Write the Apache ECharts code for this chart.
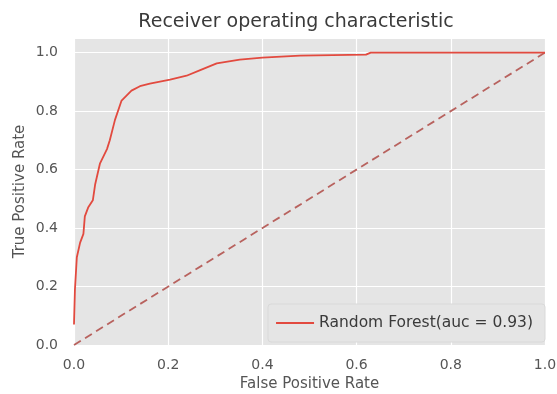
<!DOCTYPE html>
<html>
<head>
<meta charset="utf-8">
<script src="https://cdn.jsdelivr.net/npm/echarts@6/dist/echarts.min.js"></script>
<style>html,body{margin:0;padding:0;background:#fff;}#c{width:557px;height:394px;}</style>
</head>
<body>
<div id="c"></div>
<script>
const fpr = [0, 0.002, 0.006, 0.013, 0.02, 0.023, 0.03, 0.04, 0.045, 0.055, 0.07, 0.076, 0.087, 0.101, 0.122, 0.14, 0.161, 0.204, 0.239, 0.268, 0.303, 0.352, 0.40, 0.48, 0.62, 0.63, 1.0];
const tpr = [0.07, 0.19, 0.30, 0.35, 0.38, 0.44, 0.47, 0.495, 0.55, 0.62, 0.67, 0.70, 0.77, 0.836, 0.87, 0.885, 0.894, 0.908, 0.921, 0.94, 0.963, 0.976, 0.983, 0.99, 0.993, 1.0, 1.0];
const diagX = [0, 1];
const diagY = [0, 1];
const xTicks = [0, 0.2, 0.4, 0.6, 0.8, 1.0];
const yTicks = [0, 0.2, 0.4, 0.6, 0.8, 1.0];
const seriesName = 'Random Forest(auc = 0.93)';
const titleText = 'Receiver operating characteristic';

const chart = echarts.init(document.getElementById('c'), null, {renderer: 'canvas'});
const font = 'DejaVu Sans';
chart.setOption({
  animation: false,
  backgroundColor: '#ffffff',
  title: {
    text: titleText, left: 291, textAlign: 'center', top: 8,
    textStyle: {fontFamily: font, fontSize: 19, fontWeight: 'normal', color: '#3a3a3a'}
  },
  grid: {left: 74, right: 12, top: 38, bottom: 49, show: true, backgroundColor: '#E5E5E5', borderWidth: 0,
    containLabel: false, outerBoundsMode: 'none'},
  legend: {
    data: [seriesName], right: 12, bottom: 52, orient: 'vertical',
    itemWidth: 38, itemHeight: 2, itemGap: 0,
    icon: 'rect',
    padding: [11, 12, 11, 8],
    backgroundColor: '#E5E5E5', borderColor: '#d9d9d9', borderWidth: 1, borderRadius: 3,
    textStyle: {fontFamily: font, fontSize: 15.5, color: '#3a3a3a'}
  },
  xAxis: {
    type: 'value', min: 0, max: 1, interval: 0.2,
    name: 'False Positive Rate', nameLocation: 'middle', nameGap: 32, nameMoveOverlap: false,
    nameTextStyle: {fontFamily: font, fontSize: 15, color: '#555'},
    axisLine: {show: false}, axisTick: {show: false},
    axisLabel: {fontFamily: font, fontSize: 14, color: '#555', margin: 13,
      formatter: v => xTicks.some(t => Math.abs(t - v) < 1e-9) ? v.toFixed(1) : ''},
    splitLine: {show: true, lineStyle: {color: '#ffffff', width: 1.2}}
  },
  yAxis: {
    type: 'value', min: 0, max: 1.05, interval: 0.2,
    name: 'True Positive Rate', nameLocation: 'middle', nameGap: 46, nameMoveOverlap: false,
    nameTextStyle: {fontFamily: font, fontSize: 15, color: '#555'},
    axisLine: {show: false}, axisTick: {show: false},
    axisLabel: {fontFamily: font, fontSize: 14, color: '#555', margin: 16,
      formatter: v => yTicks.some(t => Math.abs(t - v) < 1e-9) ? v.toFixed(1) : ''},
    splitLine: {show: true, lineStyle: {color: '#ffffff', width: 1.2}}
  },
  series: [
    {
      name: seriesName, type: 'line', showSymbol: false, symbol: 'none',
      data: fpr.map((x, i) => [x, tpr[i]]),
      lineStyle: {color: '#E24A3F', width: 1.8}, itemStyle: {color: '#E24A3F'},
      z: 3
    },
    {
      name: 'diag', type: 'line', showSymbol: false, symbol: 'none',
      data: diagX.map((x, i) => [x, diagY[i]]),
      lineStyle: {color: '#b8625e', width: 1.8, type: [8, 5]},
      z: 2
    }
  ]
});
</script>
</body>
</html>
